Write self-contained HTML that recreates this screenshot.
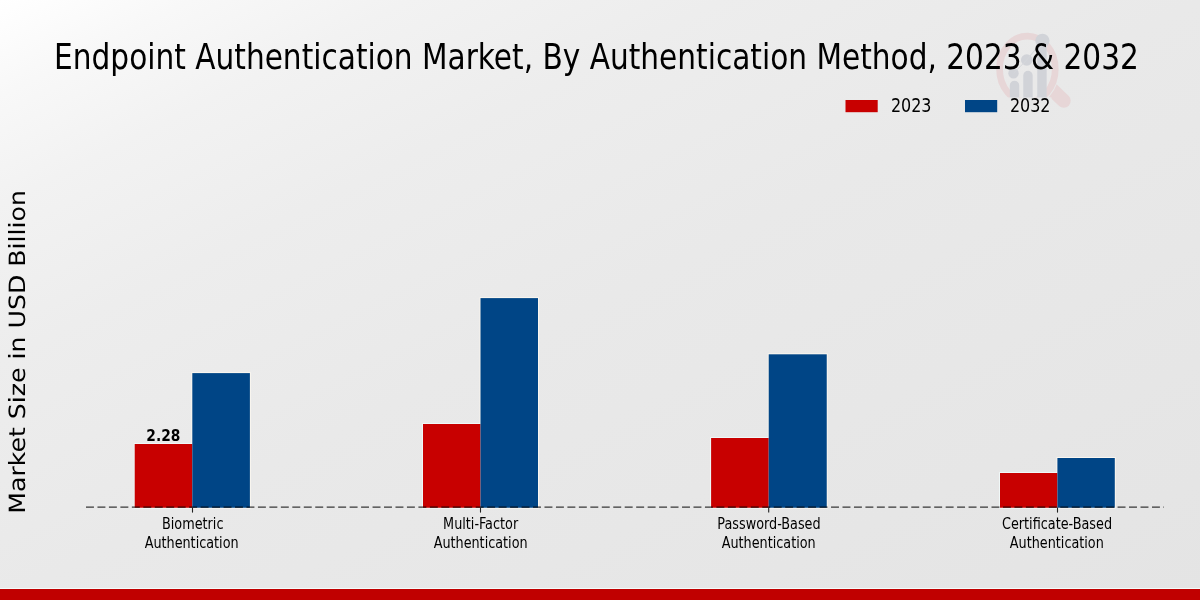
<!DOCTYPE html>
<html lang="en">
<head>
<meta charset="utf-8">
<title>Endpoint Authentication Market, By Authentication Method, 2023 &amp; 2032</title>
<style>
html,body{margin:0;padding:0;background:#fff;}
body{width:1200px;height:600px;overflow:hidden;position:relative;}
svg{display:block;position:absolute;left:0;top:0;}
.c{font-family:"DejaVu Sans Condensed","DejaVu Sans","Liberation Sans",sans-serif;font-stretch:condensed;}
.r{font-family:"DejaVu Sans","Liberation Sans",sans-serif;}
</style>
</head>
<body>
<svg width="1200" height="600" viewBox="0 0 1200 600">
  <defs>
    <linearGradient id="bg" gradientUnits="userSpaceOnUse" x1="0" y1="0" x2="480" y2="960">
      <stop offset="0" stop-color="#ffffff"/>
      <stop offset="0.08" stop-color="#f8f8f8"/>
      <stop offset="0.17" stop-color="#f2f2f2"/>
      <stop offset="0.3" stop-color="#ededed"/>
      <stop offset="0.5" stop-color="#e9e9e9"/>
      <stop offset="1" stop-color="#e4e4e4"/>
    </linearGradient>
  </defs>
  <rect x="0" y="0" width="1200" height="600" fill="url(#bg)"/>

  <!-- watermark logo -->
  <g id="logo">
    <line x1="1049" y1="86.8" x2="1063.7" y2="100.8" stroke="#e7d6d7" stroke-width="14" stroke-linecap="round"/>
    <ellipse cx="1027.4" cy="69" rx="32.2" ry="37.3" fill="url(#bg)"/>
    <ellipse cx="1027.4" cy="69" rx="27.85" ry="32.95" fill="none" stroke="#e7d6d7" stroke-width="6.7"/>
    <g fill="#d1d3d8">
      <path d="M1009.8 101V85.4a4.7 4.7 0 0 1 9.4 0V101z"/>
      <path d="M1023.25 106V75.5a4.7 4.7 0 0 1 9.4 0V106z"/>
      <path d="M1037.25 101V45a4.7 4.7 0 0 1 9.4 0V101z"/>
      <circle cx="1013.5" cy="73.2" r="5.2"/>
      <circle cx="1026.75" cy="60" r="5.8"/>
      <circle cx="1042.4" cy="40.8" r="7.1"/>
    </g>
    <polyline points="1013.5,73.2 1026.75,60 1042.4,40.8" fill="none" stroke="#d5d7db" stroke-width="1"/>
    <!-- legend frame (semi-transparent) over the watermark -->
    <rect x="990" y="97.4" width="61.5" height="20" fill="url(#bg)" opacity="0.86"/>
  </g>

  <!-- bars -->
  <g fill="#f1fafa">
    <rect x="133.80" y="443.10" width="59.40" height="65.55"/>
    <rect x="422.10" y="423.10" width="59.30" height="85.55"/>
    <rect x="710.20" y="437.10" width="59.40" height="71.55"/>
    <rect x="999.10" y="472.10" width="59.20" height="36.55"/>
  </g>
  <g fill="#fcf8f1">
    <rect x="191.40" y="372.20" width="59.40" height="136.45"/>
    <rect x="479.60" y="297.20" width="59.30" height="211.45"/>
    <rect x="767.80" y="353.40" width="59.85" height="155.25"/>
    <rect x="1056.50" y="457.10" width="59.20" height="51.55"/>
  </g>
  <g fill="#c80000">
    <rect x="134.70" y="444.00" width="57.60" height="63.75"/>
    <rect x="423.00" y="424.00" width="57.50" height="83.75"/>
    <rect x="711.10" y="438.00" width="57.60" height="69.75"/>
    <rect x="1000.00" y="473.00" width="57.40" height="34.75"/>
  </g>
  <g fill="#004586">
    <rect x="192.30" y="373.10" width="57.60" height="134.65"/>
    <rect x="480.50" y="298.10" width="57.50" height="209.65"/>
    <rect x="768.70" y="354.30" width="58.05" height="153.45"/>
    <rect x="1057.40" y="458.00" width="57.40" height="49.75"/>
  </g>

  <!-- axis line -->
  <line x1="86" y1="507.1" x2="1164" y2="507.1" stroke="#000" stroke-opacity="0.76" stroke-width="1.35" stroke-dasharray="7.95 3.512"/>
  <g stroke="#222" stroke-width="1.1">
    <line x1="192.5" y1="507.5" x2="192.5" y2="512.6"/>
    <line x1="480.5" y1="507.5" x2="480.5" y2="512.6"/>
    <line x1="768.7" y1="507.5" x2="768.7" y2="512.6"/>
    <line x1="1057.5" y1="507.5" x2="1057.5" y2="512.6"/>
  </g>

  <!-- title -->
  <text id="title" class="c" transform="translate(596.45,68.8) scale(0.9404,1)" font-size="35" text-anchor="middle" fill="#000">Endpoint Authentication Market, By Authentication Method, 2023 &amp; 2032</text>

  <!-- legend -->
  <rect x="845.5" y="100" width="32.2" height="12.2" fill="#c80000"/>
  <rect x="965" y="100" width="32.2" height="12.2" fill="#004586"/>
  <text id="lg1" class="c" transform="translate(890.9,112.3) scale(0.883,1)" font-size="20.1" fill="#000">2023</text>
  <text id="lg2" class="c" transform="translate(1009.9,112.3) scale(0.883,1)" font-size="20.1" fill="#000">2032</text>

  <!-- y label -->
  <text id="ylab" class="r" transform="translate(25.1,351.9) scale(0.89,1) rotate(-90)" text-rendering="geometricPrecision" font-size="25.2" text-anchor="middle" fill="#000">Market Size in USD Billion</text>

  <!-- value label -->
  <text id="val" class="r" font-weight="bold" transform="translate(163.3,440.75) scale(0.897,1)" font-size="15.4" text-anchor="middle" fill="#000">2.28</text>

  <!-- tick labels -->
  <g class="c" font-size="15" text-anchor="middle" fill="#000">
    <text id="t1a" transform="translate(192.7,528.85) scale(0.951,1)">Biometric</text>
    <text id="t1b" transform="translate(191.6,548.05) scale(0.949,1)">Authentication</text>
    <text id="t2a" transform="translate(480.6,528.85) scale(0.951,1)">Multi-Factor</text>
    <text id="t2b" transform="translate(480.6,548.05) scale(0.949,1)">Authentication</text>
    <text id="t3a" transform="translate(769,528.85) scale(0.951,1)">Password-Based</text>
    <text id="t3b" transform="translate(768.7,548.05) scale(0.949,1)">Authentication</text>
    <text id="t4a" transform="translate(1057,528.85) scale(0.951,1)">Certificate-Based</text>
    <text id="t4b" transform="translate(1056.8,548.05) scale(0.949,1)">Authentication</text>
  </g>

  <!-- bottom strip -->
  <rect x="0" y="588" width="1200" height="1" fill="#f4fbfb"/>
  <rect x="0" y="589" width="1200" height="11" fill="#c00000"/>
</svg>
</body>
</html>
